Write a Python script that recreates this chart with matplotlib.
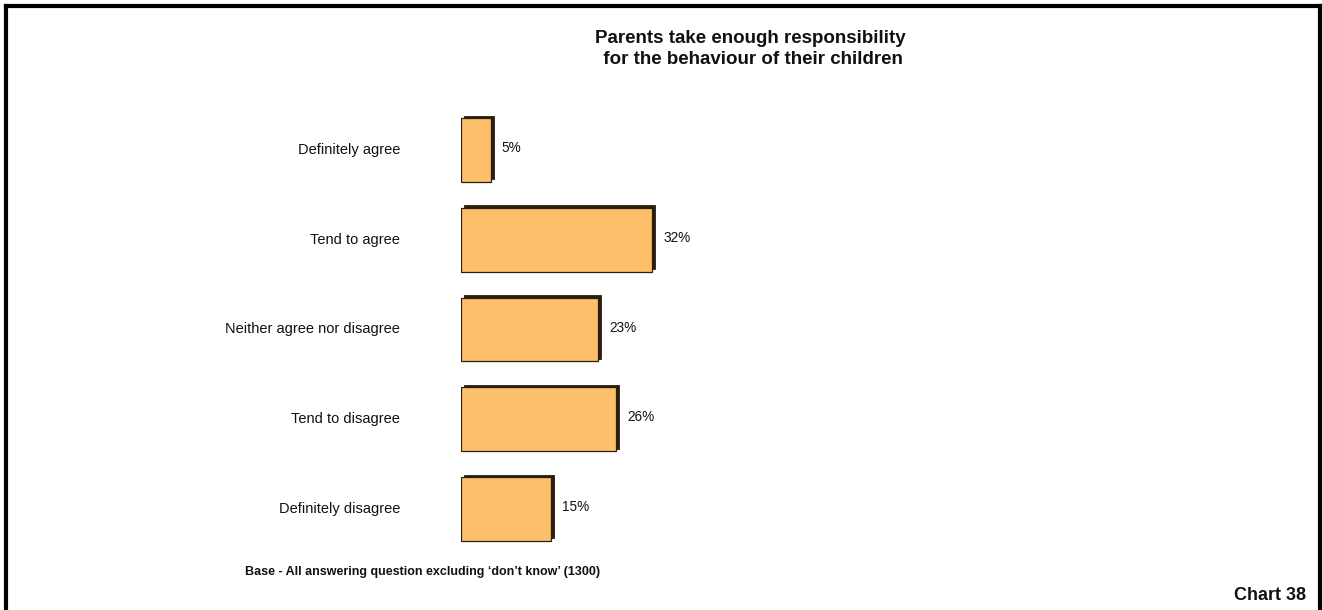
import matplotlib
matplotlib.use("Agg")
import matplotlib.pyplot as plt
import matplotlib.transforms as mtransforms
from matplotlib.lines import Line2D

categories = ["Definitely agree", "Tend to agree", "Neither agree nor disagree",
              "Tend to disagree", "Definitely disagree"]
values = [5, 32, 23, 26, 15]
value_labels = ["5%", "32%", "23%", "26%", "15%"]

title = "Parents take enough responsibility\n for the behaviour of their children"
base_note = "Base - All answering question excluding \u2018don\u2019t know\u2019 (1300)"
chart_no = "Chart 38"

plt.rcParams["font.family"] = ["Liberation Sans", "DejaVu Sans"]

W, H, DPI = 1322, 610, 100
fig = plt.figure(figsize=(W / DPI, H / DPI), dpi=DPI)
fig.patch.set_facecolor("white")

# axes placed so that bars start at x=461px; 100% spans ~597px
ax_left_px, ax_width_px = 461, 600
ax_top_px, ax_bottom_px = 105, 554
ax = fig.add_axes([ax_left_px / W, 1 - ax_bottom_px / H,
                   ax_width_px / W, (ax_bottom_px - ax_top_px) / H])
ax.set_xlim(0, ax_width_px / 5.97)
ax.set_ylim(len(categories) - 0.5, -0.5)
ax.axis("off")

ypos = list(range(len(categories)))
fill = "#FDBF6A"
dark = "#2A1E0C"
bar_h = 0.71

# depth face: same bars, shifted up and right
shift = mtransforms.ScaledTranslation(3 / DPI, 2.5 / DPI, fig.dpi_scale_trans)
ax.barh(ypos, values, height=bar_h, color=dark, edgecolor=dark,
        linewidth=0.6, transform=ax.transData + shift, zorder=1)
ax.barh(ypos, values, height=bar_h, color=fill, edgecolor=dark,
        linewidth=0.9, zorder=2)

for y, v, lab in zip(ypos, values, value_labels):
    ax.annotate(lab, xy=(v, y), xytext=(11, 2), textcoords="offset pixels",
                ha="left", va="center", fontsize=9.8, color="#111111")

for y, cat in zip(ypos, categories):
    ax.annotate(cat, xy=(0, y), xytext=(-61, 0), textcoords="offset pixels",
                ha="right", va="center", fontsize=10.5, color="#111111")

fig.text(750 / W, 1 - 49 / H, title, ha="center", va="center",
         fontsize=13.5, fontweight="bold", linespacing=1.3, color="#111111")
fig.text(245 / W, 1 - 572 / H, base_note, ha="left", va="center",
         fontsize=9, fontweight="bold", color="#111111")
fig.text(1306 / W, 1 - 595 / H, chart_no, ha="right", va="center",
         fontsize=13, fontweight="bold", color="#111111")

# outer frame (left, top, right)
lw = 3.0
fig.add_artist(Line2D([5.5 / W, 5.5 / W], [0, 1 - 6 / H], transform=fig.transFigure,
                      color="black", linewidth=lw, solid_capstyle="projecting"))
fig.add_artist(Line2D([5.5 / W, 1319.5 / W], [1 - 6 / H, 1 - 6 / H],
                      transform=fig.transFigure, color="black", linewidth=lw,
                      solid_capstyle="projecting"))
fig.add_artist(Line2D([1319.5 / W, 1319.5 / W], [0, 1 - 6 / H], transform=fig.transFigure,
                      color="black", linewidth=lw, solid_capstyle="projecting"))

fig.savefig("out.png", dpi=DPI, facecolor="white")
